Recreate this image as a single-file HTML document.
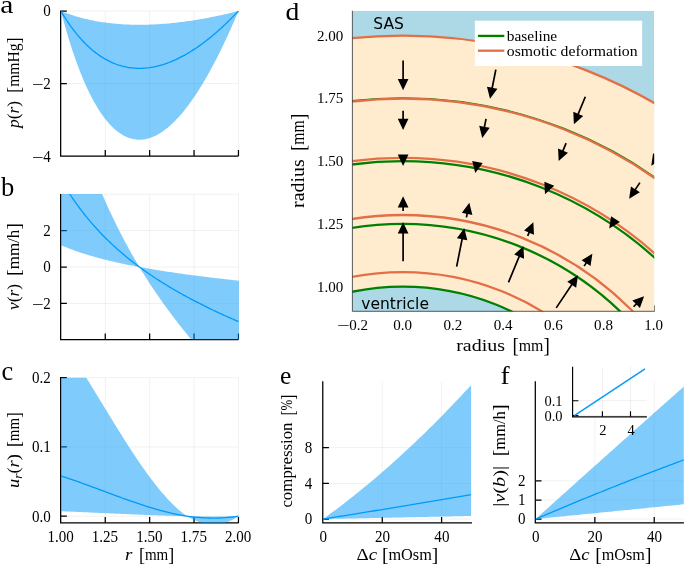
<!DOCTYPE html>
<html lang="en">
<head>
<meta charset="utf-8">
<title>Figure</title>
<style>
html,body{margin:0;padding:0;background:#fff;}
svg{display:block;}
</style>
</head>
<body>
<svg width="685" height="566" viewBox="0 0 685 566" font-family='"Liberation Serif", "DejaVu Serif", serif' fill="#000">
<rect width="685" height="566" fill="#fff"/>
<clipPath id="cp1"><rect x="60.85" y="11" width="178.1" height="145.1"/></clipPath>
<path d="M60.85 11V156.1M105.25 11V156.1M149.65 11V156.1M194.05 11V156.1M238.45 11V156.1M60.85 11H238.45M60.85 83.55H238.45M60.85 156.1H238.45" stroke="#000" stroke-opacity="0.1" stroke-width="0.6" fill="none"/>
<path d="M60.65 10.38V156.1H238.45" stroke="#000" stroke-width="1.25" fill="none" stroke-linejoin="miter"/>
<path d="M105.25 156.1v-6M149.65 156.1v-6M194.05 156.1v-6M238.45 156.1v-6M60.85 11h6M60.85 83.55h6" stroke="#000" stroke-width="1.25" fill="none"/>
<path d="M60.85 11 L62.33 11.6 L63.81 12.17 L65.29 12.74 L66.77 13.28 L68.25 13.81 L69.73 14.32 L71.21 14.82 L72.69 15.3 L74.17 15.77 L75.65 16.22 L77.13 16.66 L78.61 17.08 L80.09 17.49 L81.57 17.89 L83.05 18.27 L84.53 18.64 L86.01 19 L87.49 19.35 L88.97 19.68 L90.45 20 L91.93 20.3 L93.41 20.6 L94.89 20.88 L96.37 21.16 L97.85 21.42 L99.33 21.67 L100.81 21.91 L102.29 22.14 L103.77 22.35 L105.25 22.56 L106.73 22.76 L108.21 22.95 L109.69 23.12 L111.17 23.29 L112.65 23.45 L114.13 23.6 L115.61 23.74 L117.09 23.87 L118.57 23.99 L120.05 24.1 L121.53 24.2 L123.01 24.3 L124.49 24.38 L125.97 24.46 L127.45 24.53 L128.93 24.59 L130.41 24.64 L131.89 24.68 L133.37 24.72 L134.85 24.74 L136.33 24.76 L137.81 24.78 L139.29 24.78 L140.77 24.78 L142.25 24.77 L143.73 24.75 L145.21 24.72 L146.69 24.69 L148.17 24.65 L149.65 24.6 L151.13 24.55 L152.61 24.49 L154.09 24.42 L155.57 24.35 L157.05 24.27 L158.53 24.18 L160.01 24.08 L161.49 23.98 L162.97 23.87 L164.45 23.76 L165.93 23.64 L167.41 23.51 L168.89 23.38 L170.37 23.24 L171.85 23.1 L173.33 22.95 L174.81 22.79 L176.29 22.63 L177.77 22.46 L179.25 22.29 L180.73 22.11 L182.21 21.92 L183.69 21.73 L185.17 21.53 L186.65 21.33 L188.13 21.12 L189.61 20.91 L191.09 20.69 L192.57 20.46 L194.05 20.23 L195.53 20 L197.01 19.75 L198.49 19.51 L199.97 19.26 L201.45 19 L202.93 18.74 L204.41 18.47 L205.89 18.2 L207.37 17.92 L208.85 17.64 L210.33 17.35 L211.81 17.06 L213.29 16.77 L214.77 16.46 L216.25 16.16 L217.73 15.85 L219.21 15.53 L220.69 15.21 L222.17 14.88 L223.65 14.55 L225.13 14.22 L226.61 13.88 L228.09 13.54 L229.57 13.19 L231.05 12.83 L232.53 12.48 L234.01 12.11 L235.49 11.75 L236.97 11.38 L238.95 11 L238.95 11 L236.97 14.51 L235.49 17.98 L234.01 21.4 L232.53 24.79 L231.05 28.13 L229.57 31.43 L228.09 34.68 L226.61 37.9 L225.13 41.07 L223.65 44.2 L222.17 47.28 L220.69 50.32 L219.21 53.32 L217.73 56.27 L216.25 59.17 L214.77 62.04 L213.29 64.85 L211.81 67.62 L210.33 70.35 L208.85 73.03 L207.37 75.66 L205.89 78.25 L204.41 80.79 L202.93 83.28 L201.45 85.72 L199.97 88.12 L198.49 90.47 L197.01 92.77 L195.53 95.01 L194.05 97.21 L192.57 99.36 L191.09 101.46 L189.61 103.51 L188.13 105.51 L186.65 107.46 L185.17 109.35 L183.69 111.2 L182.21 112.99 L180.73 114.72 L179.25 116.41 L177.77 118.04 L176.29 119.61 L174.81 121.13 L173.33 122.6 L171.85 124 L170.37 125.36 L168.89 126.65 L167.41 127.89 L165.93 129.07 L164.45 130.19 L162.97 131.25 L161.49 132.25 L160.01 133.2 L158.53 134.08 L157.05 134.9 L155.57 135.66 L154.09 136.35 L152.61 136.98 L151.13 137.55 L149.65 138.05 L148.17 138.49 L146.69 138.86 L145.21 139.17 L143.73 139.4 L142.25 139.57 L140.77 139.67 L139.29 139.7 L137.81 139.66 L136.33 139.55 L134.85 139.37 L133.37 139.11 L131.89 138.78 L130.41 138.37 L128.93 137.89 L127.45 137.33 L125.97 136.69 L124.49 135.98 L123.01 135.18 L121.53 134.31 L120.05 133.35 L118.57 132.31 L117.09 131.18 L115.61 129.97 L114.13 128.67 L112.65 127.29 L111.17 125.81 L109.69 124.25 L108.21 122.59 L106.73 120.84 L105.25 119 L103.77 117.06 L102.29 115.02 L100.81 112.88 L99.33 110.65 L97.85 108.31 L96.37 105.87 L94.89 103.32 L93.41 100.67 L91.93 97.9 L90.45 95.03 L88.97 92.04 L87.49 88.94 L86.01 85.73 L84.53 82.39 L83.05 78.94 L81.57 75.36 L80.09 71.66 L78.61 67.83 L77.13 63.87 L75.65 59.78 L74.17 55.55 L72.69 51.19 L71.21 46.68 L69.73 42.04 L68.25 37.25 L66.77 32.31 L65.29 27.21 L63.81 21.97 L62.33 16.57 L60.85 11Z" fill="#009AFA" fill-opacity="0.5" clip-path="url(#cp1)"/>
<path d="M60.85 11 L62.33 13.48 L63.81 15.89 L65.29 18.22 L66.77 20.49 L68.25 22.69 L69.73 24.82 L71.21 26.89 L72.69 28.9 L74.17 30.84 L75.65 32.72 L77.13 34.55 L78.61 36.31 L80.09 38.02 L81.57 39.67 L83.05 41.26 L84.53 42.8 L86.01 44.28 L87.49 45.72 L88.97 47.1 L90.45 48.43 L91.93 49.71 L93.41 50.94 L94.89 52.12 L96.37 53.25 L97.85 54.34 L99.33 55.38 L100.81 56.38 L102.29 57.33 L103.77 58.24 L105.25 59.1 L106.73 59.92 L108.21 60.7 L109.69 61.44 L111.17 62.14 L112.65 62.79 L114.13 63.41 L115.61 63.99 L117.09 64.53 L118.57 65.03 L120.05 65.49 L121.53 65.92 L123.01 66.31 L124.49 66.66 L125.97 66.98 L127.45 67.27 L128.93 67.52 L130.41 67.73 L131.89 67.91 L133.37 68.06 L134.85 68.17 L136.33 68.26 L137.81 68.31 L139.29 68.32 L140.77 68.31 L142.25 68.27 L143.73 68.19 L145.21 68.09 L146.69 67.95 L148.17 67.78 L149.65 67.59 L151.13 67.36 L152.61 67.11 L154.09 66.83 L155.57 66.52 L157.05 66.18 L158.53 65.82 L160.01 65.43 L161.49 65.01 L162.97 64.56 L164.45 64.09 L165.93 63.59 L167.41 63.06 L168.89 62.51 L170.37 61.93 L171.85 61.33 L173.33 60.7 L174.81 60.05 L176.29 59.38 L177.77 58.67 L179.25 57.95 L180.73 57.2 L182.21 56.42 L183.69 55.63 L185.17 54.81 L186.65 53.96 L188.13 53.1 L189.61 52.21 L191.09 51.29 L192.57 50.36 L194.05 49.4 L195.53 48.42 L197.01 47.42 L198.49 46.39 L199.97 45.35 L201.45 44.28 L202.93 43.19 L204.41 42.08 L205.89 40.95 L207.37 39.8 L208.85 38.63 L210.33 37.43 L211.81 36.22 L213.29 34.99 L214.77 33.73 L216.25 32.46 L217.73 31.16 L219.21 29.85 L220.69 28.51 L222.17 27.16 L223.65 25.79 L225.13 24.39 L226.61 22.98 L228.09 21.55 L229.57 20.1 L231.05 18.63 L232.53 17.14 L234.01 15.63 L235.49 14.11 L236.97 12.56 L238.45 11" fill="none" stroke="#009AFA" stroke-width="1.3" stroke-linejoin="round" clip-path="url(#cp1)"/>
<text x="43.18" y="16" font-size="16.0" textLength="7.52" lengthAdjust="spacingAndGlyphs">0</text>
<text x="43.18" y="89" font-size="16.0" textLength="7.52" lengthAdjust="spacingAndGlyphs">2</text>
<text x="31.98" y="90.3" font-size="16.0" textLength="11.6" lengthAdjust="spacingAndGlyphs">−</text>
<text x="43.18" y="162" font-size="16.0" textLength="7.52" lengthAdjust="spacingAndGlyphs">4</text>
<text x="31.98" y="163.3" font-size="16.0" textLength="11.6" lengthAdjust="spacingAndGlyphs">−</text>
<clipPath id="cp2"><rect x="60.85" y="194" width="178.1" height="145.5"/></clipPath>
<path d="M60.85 194V339.5M105.25 194V339.5M149.65 194V339.5M194.05 194V339.5M238.45 194V339.5M60.85 230.6H238.45M60.85 267H238.45M60.85 303.4H238.45M60.85 194.2H238.45" stroke="#000" stroke-opacity="0.1" stroke-width="0.6" fill="none"/>
<path d="M60.65 194V339.5H238.45" stroke="#000" stroke-width="1.25" fill="none" stroke-linejoin="miter"/>
<path d="M105.25 339.5v-6M149.65 339.5v-6M194.05 339.5v-6M238.45 339.5v-6M60.85 230.6h6M60.85 267h6M60.85 303.4h6" stroke="#000" stroke-width="1.25" fill="none"/>
<path d="M60.85 245.16 L62.33 245.79 L63.81 246.41 L65.29 247.01 L66.77 247.6 L68.25 248.18 L69.73 248.75 L71.21 249.31 L72.69 249.86 L74.17 250.39 L75.65 250.92 L77.13 251.43 L78.61 251.94 L80.09 252.43 L81.57 252.92 L83.05 253.4 L84.53 253.87 L86.01 254.33 L87.49 254.79 L88.97 255.23 L90.45 255.67 L91.93 256.1 L93.41 256.53 L94.89 256.94 L96.37 257.35 L97.85 257.76 L99.33 258.16 L100.81 258.55 L102.29 258.93 L103.77 259.31 L105.25 259.68 L106.73 260.05 L108.21 260.41 L109.69 260.77 L111.17 261.12 L112.65 261.47 L114.13 261.81 L115.61 262.15 L117.09 262.48 L118.57 262.81 L120.05 263.13 L121.53 263.45 L123.01 263.77 L124.49 264.08 L125.97 264.38 L127.45 264.69 L128.93 264.99 L130.41 265.28 L131.89 265.57 L133.37 265.86 L134.85 266.15 L136.33 266.43 L137.81 266.71 L139.29 266.98 L140.77 267.25 L142.25 267.52 L143.73 267.79 L145.21 268.05 L146.69 268.31 L148.17 268.57 L149.65 268.82 L151.13 269.07 L152.61 269.32 L154.09 269.57 L155.57 269.81 L157.05 270.05 L158.53 270.29 L160.01 270.53 L161.49 270.76 L162.97 270.99 L164.45 271.22 L165.93 271.45 L167.41 271.68 L168.89 271.9 L170.37 272.12 L171.85 272.34 L173.33 272.56 L174.81 272.77 L176.29 272.98 L177.77 273.2 L179.25 273.41 L180.73 273.61 L182.21 273.82 L183.69 274.03 L185.17 274.23 L186.65 274.43 L188.13 274.63 L189.61 274.83 L191.09 275.02 L192.57 275.22 L194.05 275.41 L195.53 275.61 L197.01 275.8 L198.49 275.99 L199.97 276.17 L201.45 276.36 L202.93 276.54 L204.41 276.73 L205.89 276.91 L207.37 277.09 L208.85 277.27 L210.33 277.45 L211.81 277.63 L213.29 277.81 L214.77 277.98 L216.25 278.16 L217.73 278.33 L219.21 278.5 L220.69 278.67 L222.17 278.84 L223.65 279.01 L225.13 279.18 L226.61 279.35 L228.09 279.51 L229.57 279.68 L231.05 279.84 L232.53 280.01 L234.01 280.17 L235.49 280.33 L236.97 280.49 L238.95 280.65 L238.95 389.85 L236.97 388.41 L235.49 386.97 L234.01 385.52 L232.53 384.05 L231.05 382.59 L229.57 381.11 L228.09 379.62 L226.61 378.13 L225.13 376.62 L223.65 375.11 L222.17 373.59 L220.69 372.06 L219.21 370.52 L217.73 368.97 L216.25 367.41 L214.77 365.84 L213.29 364.26 L211.81 362.67 L210.33 361.07 L208.85 359.46 L207.37 357.84 L205.89 356.2 L204.41 354.56 L202.93 352.9 L201.45 351.24 L199.97 349.56 L198.49 347.87 L197.01 346.16 L195.53 344.45 L194.05 342.72 L192.57 340.97 L191.09 339.22 L189.61 337.45 L188.13 335.66 L186.65 333.87 L185.17 332.06 L183.69 330.23 L182.21 328.39 L180.73 326.53 L179.25 324.66 L177.77 322.77 L176.29 320.86 L174.81 318.94 L173.33 317.01 L171.85 315.05 L170.37 313.08 L168.89 311.09 L167.41 309.08 L165.93 307.05 L164.45 305 L162.97 302.93 L161.49 300.85 L160.01 298.74 L158.53 296.61 L157.05 294.46 L155.57 292.29 L154.09 290.1 L152.61 287.88 L151.13 285.64 L149.65 283.38 L148.17 281.09 L146.69 278.78 L145.21 276.44 L143.73 274.08 L142.25 271.69 L140.77 269.27 L139.29 266.83 L137.81 264.35 L136.33 261.85 L134.85 259.32 L133.37 256.76 L131.89 254.16 L130.41 251.54 L128.93 248.88 L127.45 246.19 L125.97 243.46 L124.49 240.7 L123.01 237.9 L121.53 235.07 L120.05 232.19 L118.57 229.28 L117.09 226.33 L115.61 223.34 L114.13 220.3 L112.65 217.23 L111.17 214.1 L109.69 210.94 L108.21 207.72 L106.73 204.46 L105.25 201.15 L103.77 197.79 L102.29 194.38 L100.81 190.91 L99.33 187.4 L97.85 183.82 L96.37 180.19 L94.89 176.49 L93.41 172.74 L91.93 168.92 L90.45 165.04 L88.97 161.1 L87.49 157.08 L86.01 153 L84.53 148.84 L83.05 144.61 L81.57 140.3 L80.09 135.91 L78.61 131.44 L77.13 126.89 L75.65 122.25 L74.17 117.52 L72.69 112.7 L71.21 107.78 L69.73 102.77 L68.25 97.65 L66.77 92.43 L65.29 87.1 L63.81 81.67 L62.33 76.11 L60.85 70.44Z" fill="#009AFA" fill-opacity="0.5" clip-path="url(#cp2)"/>
<path d="M60.85 179.64 L62.33 182.16 L63.81 184.63 L65.29 187.05 L66.77 189.41 L68.25 191.73 L69.73 194.01 L71.21 196.24 L72.69 198.42 L74.17 200.56 L75.65 202.66 L77.13 204.73 L78.61 206.75 L80.09 208.74 L81.57 210.69 L83.05 212.6 L84.53 214.48 L86.01 216.33 L87.49 218.15 L88.97 219.93 L90.45 221.69 L91.93 223.41 L93.41 225.11 L94.89 226.77 L96.37 228.42 L97.85 230.03 L99.33 231.62 L100.81 233.18 L102.29 234.72 L103.77 236.24 L105.25 237.73 L106.73 239.21 L108.21 240.65 L109.69 242.08 L111.17 243.49 L112.65 244.88 L114.13 246.25 L115.61 247.59 L117.09 248.92 L118.57 250.24 L120.05 251.53 L121.53 252.81 L123.01 254.07 L124.49 255.31 L125.97 256.54 L127.45 257.75 L128.93 258.95 L130.41 260.13 L131.89 261.29 L133.37 262.45 L134.85 263.59 L136.33 264.71 L137.81 265.82 L139.29 266.92 L140.77 268.01 L142.25 269.08 L143.73 270.15 L145.21 271.2 L146.69 272.24 L148.17 273.26 L149.65 274.28 L151.13 275.29 L152.61 276.28 L154.09 277.27 L155.57 278.24 L157.05 279.21 L158.53 280.16 L160.01 281.11 L161.49 282.04 L162.97 282.97 L164.45 283.89 L165.93 284.8 L167.41 285.7 L168.89 286.59 L170.37 287.48 L171.85 288.36 L173.33 289.22 L174.81 290.09 L176.29 290.94 L177.77 291.79 L179.25 292.63 L180.73 293.46 L182.21 294.28 L183.69 295.1 L185.17 295.91 L186.65 296.72 L188.13 297.52 L189.61 298.31 L191.09 299.1 L192.57 299.88 L194.05 300.65 L195.53 301.42 L197.01 302.18 L198.49 302.94 L199.97 303.69 L201.45 304.44 L202.93 305.18 L204.41 305.92 L205.89 306.65 L207.37 307.37 L208.85 308.09 L210.33 308.81 L211.81 309.52 L213.29 310.23 L214.77 310.93 L216.25 311.63 L217.73 312.32 L219.21 313.01 L220.69 313.69 L222.17 314.37 L223.65 315.05 L225.13 315.72 L226.61 316.39 L228.09 317.05 L229.57 317.71 L231.05 318.37 L232.53 319.02 L234.01 319.67 L235.49 320.32 L236.97 320.96 L238.45 321.6" fill="none" stroke="#009AFA" stroke-width="1.3" stroke-linejoin="round" clip-path="url(#cp2)"/>
<text x="43.18" y="236" font-size="16.0" textLength="7.52" lengthAdjust="spacingAndGlyphs">2</text>
<text x="43.18" y="272" font-size="16.0" textLength="7.52" lengthAdjust="spacingAndGlyphs">0</text>
<text x="43.18" y="309" font-size="16.0" textLength="7.52" lengthAdjust="spacingAndGlyphs">2</text>
<text x="31.98" y="310.3" font-size="16.0" textLength="11.6" lengthAdjust="spacingAndGlyphs">−</text>
<clipPath id="cp3"><rect x="60.85" y="377.7" width="178.1" height="145.2"/></clipPath>
<path d="M60.85 377.7V522.9M105.25 377.7V522.9M149.65 377.7V522.9M194.05 377.7V522.9M238.45 377.7V522.9M60.85 377.7H238.45M60.85 446.95H238.45M60.85 516.2H238.45" stroke="#000" stroke-opacity="0.1" stroke-width="0.6" fill="none"/>
<path d="M60.65 377.07V522.9H238.45" stroke="#000" stroke-width="1.25" fill="none" stroke-linejoin="miter"/>
<path d="M105.25 522.9v-6M149.65 522.9v-6M194.05 522.9v-6M238.45 522.9v-6M60.85 377.7h6M60.85 446.95h6M60.85 516.2h6" stroke="#000" stroke-width="1.25" fill="none"/>
<path d="M60.85 511.22 L62.33 511.27 L63.81 511.33 L65.29 511.39 L66.77 511.45 L68.25 511.52 L69.73 511.58 L71.21 511.64 L72.69 511.7 L74.17 511.77 L75.65 511.83 L77.13 511.9 L78.61 511.96 L80.09 512.03 L81.57 512.09 L83.05 512.16 L84.53 512.22 L86.01 512.29 L87.49 512.36 L88.97 512.42 L90.45 512.49 L91.93 512.56 L93.41 512.63 L94.89 512.69 L96.37 512.76 L97.85 512.83 L99.33 512.9 L100.81 512.97 L102.29 513.04 L103.77 513.1 L105.25 513.17 L106.73 513.24 L108.21 513.31 L109.69 513.38 L111.17 513.45 L112.65 513.51 L114.13 513.58 L115.61 513.65 L117.09 513.72 L118.57 513.78 L120.05 513.85 L121.53 513.92 L123.01 513.98 L124.49 514.05 L125.97 514.11 L127.45 514.18 L128.93 514.24 L130.41 514.31 L131.89 514.37 L133.37 514.44 L134.85 514.5 L136.33 514.56 L137.81 514.62 L139.29 514.68 L140.77 514.74 L142.25 514.8 L143.73 514.86 L145.21 514.92 L146.69 514.98 L148.17 515.04 L149.65 515.09 L151.13 515.15 L152.61 515.21 L154.09 515.26 L155.57 515.31 L157.05 515.36 L158.53 515.42 L160.01 515.47 L161.49 515.52 L162.97 515.57 L164.45 515.61 L165.93 515.66 L167.41 515.71 L168.89 515.75 L170.37 515.79 L171.85 515.84 L173.33 515.88 L174.81 515.92 L176.29 515.96 L177.77 515.99 L179.25 516.03 L180.73 516.07 L182.21 516.1 L183.69 516.13 L185.17 516.16 L186.65 516.19 L188.13 516.22 L189.61 516.24 L191.09 516.26 L192.57 516.29 L194.05 516.3 L195.53 516.32 L197.01 516.34 L198.49 516.35 L199.97 516.37 L201.45 516.38 L202.93 516.39 L204.41 516.4 L205.89 516.41 L207.37 516.42 L208.85 516.42 L210.33 516.43 L211.81 516.43 L213.29 516.43 L214.77 516.43 L216.25 516.43 L217.73 516.43 L219.21 516.42 L220.69 516.42 L222.17 516.41 L223.65 516.4 L225.13 516.39 L226.61 516.37 L228.09 516.36 L229.57 516.34 L231.05 516.32 L232.53 516.3 L234.01 516.28 L235.49 516.25 L236.97 516.23 L238.95 516.2 L238.95 516.2 L236.97 517.19 L235.49 518.11 L234.01 518.97 L232.53 519.77 L231.05 520.49 L229.57 521.16 L228.09 521.76 L226.61 522.3 L225.13 522.78 L223.65 523.2 L222.17 523.55 L220.69 523.85 L219.21 524.09 L217.73 524.27 L216.25 524.4 L214.77 524.46 L213.29 524.48 L211.81 524.43 L210.33 524.34 L208.85 524.19 L207.37 523.98 L205.89 523.73 L204.41 523.42 L202.93 523.07 L201.45 522.66 L199.97 522.2 L198.49 521.7 L197.01 521.15 L195.53 520.55 L194.05 519.91 L192.57 519.22 L191.09 518.49 L189.61 517.71 L188.13 516.89 L186.65 515.99 L185.17 514.93 L183.69 513.82 L182.21 512.66 L180.73 511.45 L179.25 510.2 L177.77 508.9 L176.29 507.56 L174.81 506.18 L173.33 504.75 L171.85 503.29 L170.37 501.78 L168.89 500.23 L167.41 498.65 L165.93 497.03 L164.45 495.37 L162.97 493.67 L161.49 491.94 L160.01 490.17 L158.53 488.38 L157.05 486.55 L155.57 484.68 L154.09 482.79 L152.61 480.87 L151.13 478.91 L149.65 476.93 L148.17 474.92 L146.69 472.89 L145.21 470.83 L143.73 468.74 L142.25 466.64 L140.77 464.5 L139.29 462.35 L137.81 460.17 L136.33 457.98 L134.85 455.76 L133.37 453.53 L131.89 451.28 L130.41 449.01 L128.93 446.72 L127.45 444.42 L125.97 442.11 L124.49 439.78 L123.01 437.44 L121.53 435.09 L120.05 432.72 L118.57 430.35 L117.09 427.97 L115.61 425.58 L114.13 423.18 L112.65 420.77 L111.17 418.36 L109.69 415.95 L108.21 413.53 L106.73 411.11 L105.25 408.68 L103.77 406.26 L102.29 403.83 L100.81 401.4 L99.33 398.98 L97.85 396.55 L96.37 394.13 L94.89 391.72 L93.41 389.31 L91.93 386.9 L90.45 384.5 L88.97 382.11 L87.49 379.72 L86.01 377.35 L84.53 374.98 L83.05 372.63 L81.57 370.28 L80.09 367.95 L78.61 365.64 L77.13 363.33 L75.65 361.05 L74.17 358.77 L72.69 356.52 L71.21 354.28 L69.73 352.06 L68.25 349.86 L66.77 347.68 L65.29 345.52 L63.81 343.39 L62.33 341.27 L60.85 339.18Z" fill="#009AFA" fill-opacity="0.5" clip-path="url(#cp3)"/>
<path d="M60.85 475.91 L62.33 476.39 L63.81 476.87 L65.29 477.35 L66.77 477.84 L68.25 478.34 L69.73 478.84 L71.21 479.35 L72.69 479.85 L74.17 480.37 L75.65 480.89 L77.13 481.41 L78.61 481.93 L80.09 482.46 L81.57 482.99 L83.05 483.52 L84.53 484.06 L86.01 484.6 L87.49 485.14 L88.97 485.68 L90.45 486.22 L91.93 486.77 L93.41 487.32 L94.89 487.87 L96.37 488.42 L97.85 488.97 L99.33 489.52 L100.81 490.07 L102.29 490.62 L103.77 491.18 L105.25 491.73 L106.73 492.28 L108.21 492.83 L109.69 493.38 L111.17 493.93 L112.65 494.48 L114.13 495.03 L115.61 495.57 L117.09 496.12 L118.57 496.66 L120.05 497.2 L121.53 497.74 L123.01 498.27 L124.49 498.81 L125.97 499.34 L127.45 499.86 L128.93 500.39 L130.41 500.91 L131.89 501.42 L133.37 501.94 L134.85 502.44 L136.33 502.95 L137.81 503.45 L139.29 503.94 L140.77 504.43 L142.25 504.92 L143.73 505.4 L145.21 505.87 L146.69 506.34 L148.17 506.81 L149.65 507.26 L151.13 507.71 L152.61 508.16 L154.09 508.6 L155.57 509.03 L157.05 509.45 L158.53 509.87 L160.01 510.28 L161.49 510.68 L162.97 511.07 L164.45 511.46 L165.93 511.84 L167.41 512.2 L168.89 512.57 L170.37 512.92 L171.85 513.26 L173.33 513.59 L174.81 513.92 L176.29 514.23 L177.77 514.54 L179.25 514.83 L180.73 515.12 L182.21 515.39 L183.69 515.66 L185.17 515.91 L186.65 516.15 L188.13 516.36 L189.61 516.54 L191.09 516.72 L192.57 516.89 L194.05 517.04 L195.53 517.19 L197.01 517.33 L198.49 517.45 L199.97 517.57 L201.45 517.67 L202.93 517.76 L204.41 517.84 L205.89 517.91 L207.37 517.97 L208.85 518.02 L210.33 518.05 L211.81 518.07 L213.29 518.08 L214.77 518.08 L216.25 518.07 L217.73 518.04 L219.21 518 L220.69 517.94 L222.17 517.87 L223.65 517.79 L225.13 517.7 L226.61 517.59 L228.09 517.47 L229.57 517.33 L231.05 517.18 L232.53 517.01 L234.01 516.83 L235.49 516.64 L236.97 516.43 L238.45 516.2" fill="none" stroke="#009AFA" stroke-width="1.3" stroke-linejoin="round" clip-path="url(#cp3)"/>
<text x="47.39" y="542" font-size="16.0" textLength="26.32" lengthAdjust="spacingAndGlyphs">1.00</text>
<text x="91.79" y="542" font-size="16.0" textLength="26.32" lengthAdjust="spacingAndGlyphs">1.25</text>
<text x="136.19" y="542" font-size="16.0" textLength="26.32" lengthAdjust="spacingAndGlyphs">1.50</text>
<text x="180.59" y="542" font-size="16.0" textLength="26.32" lengthAdjust="spacingAndGlyphs">1.75</text>
<text x="224.99" y="542" font-size="16.0" textLength="26.32" lengthAdjust="spacingAndGlyphs">2.00</text>
<text x="31.9" y="383" font-size="16.0" textLength="18.8" lengthAdjust="spacingAndGlyphs">0.2</text>
<text x="31.9" y="452" font-size="16.0" textLength="18.8" lengthAdjust="spacingAndGlyphs">0.1</text>
<text x="31.9" y="522" font-size="16.0" textLength="18.8" lengthAdjust="spacingAndGlyphs">0.0</text>
<clipPath id="cp4"><rect x="322.95" y="381.3" width="148.3" height="141.6"/></clipPath>
<path d="M322.95 381.3V522.9M382.27 381.3V522.9M441.59 381.3V522.9M322.95 519.1H471.25M322.95 483.38H471.25M322.95 447.66H471.25" stroke="#000" stroke-opacity="0.1" stroke-width="0.6" fill="none"/>
<path d="M322.75 381.3V522.9H471.95" stroke="#000" stroke-width="1.25" fill="none" stroke-linejoin="miter"/>
<path d="M382.27 522.9v-6M441.59 522.9v-6M322.95 519.1h6M322.95 483.38h6M322.95 447.66h6" stroke="#000" stroke-width="1.25" fill="none"/>
<path d="M322.95 519.1 L325.92 519.04 L328.88 518.97 L331.85 518.91 L334.81 518.85 L337.78 518.79 L340.75 518.72 L343.71 518.66 L346.68 518.6 L349.64 518.54 L352.61 518.47 L355.58 518.41 L358.54 518.35 L361.51 518.29 L364.47 518.22 L367.44 518.16 L370.41 518.1 L373.37 518.04 L376.34 517.97 L379.3 517.91 L382.27 517.85 L385.24 517.79 L388.2 517.72 L391.17 517.66 L394.13 517.6 L397.1 517.54 L400.07 517.47 L403.03 517.41 L406 517.35 L408.96 517.29 L411.93 517.22 L414.9 517.16 L417.86 517.1 L420.83 517.04 L423.79 516.97 L426.76 516.91 L429.73 516.85 L432.69 516.79 L435.66 516.72 L438.62 516.66 L441.59 516.6 L444.56 516.54 L447.52 516.47 L450.49 516.41 L453.45 516.35 L456.42 516.29 L459.39 516.22 L462.35 516.16 L465.32 516.1 L468.28 516.04 L471.25 515.97 L471.25 384.93 L468.28 388.15 L465.32 391.36 L462.35 394.54 L459.39 397.7 L456.42 400.84 L453.45 403.95 L450.49 407.04 L447.52 410.12 L444.56 413.16 L441.59 416.19 L438.62 419.2 L435.66 422.18 L432.69 425.14 L429.73 428.08 L426.76 430.99 L423.79 433.89 L420.83 436.76 L417.86 439.61 L414.9 442.43 L411.93 445.24 L408.96 448.02 L406 450.78 L403.03 453.52 L400.07 456.24 L397.1 458.93 L394.13 461.61 L391.17 464.26 L388.2 466.88 L385.24 469.49 L382.27 472.07 L379.3 474.64 L376.34 477.18 L373.37 479.69 L370.41 482.19 L367.44 484.66 L364.47 487.11 L361.51 489.54 L358.54 491.95 L355.58 494.33 L352.61 496.69 L349.64 499.03 L346.68 501.35 L343.71 503.65 L340.75 505.92 L337.78 508.17 L334.81 510.4 L331.85 512.61 L328.88 514.8 L325.92 516.96 L322.95 519.1Z" fill="#009AFA" fill-opacity="0.5" clip-path="url(#cp4)"/>
<path d="M322.95 519.1 L325.92 518.63 L328.88 518.16 L331.85 517.68 L334.81 517.21 L337.78 516.73 L340.75 516.26 L343.71 515.78 L346.68 515.31 L349.64 514.83 L352.61 514.35 L355.58 513.87 L358.54 513.39 L361.51 512.92 L364.47 512.43 L367.44 511.95 L370.41 511.47 L373.37 510.99 L376.34 510.51 L379.3 510.02 L382.27 509.54 L385.24 509.05 L388.2 508.57 L391.17 508.08 L394.13 507.6 L397.1 507.11 L400.07 506.62 L403.03 506.13 L406 505.64 L408.96 505.15 L411.93 504.66 L414.9 504.17 L417.86 503.68 L420.83 503.18 L423.79 502.69 L426.76 502.2 L429.73 501.7 L432.69 501.21 L435.66 500.71 L438.62 500.21 L441.59 499.72 L444.56 499.22 L447.52 498.72 L450.49 498.22 L453.45 497.72 L456.42 497.22 L459.39 496.72 L462.35 496.22 L465.32 495.71 L468.28 495.21 L471.25 494.71" fill="none" stroke="#009AFA" stroke-width="1.3" stroke-linejoin="round" clip-path="url(#cp4)"/>
<text x="319.49" y="542" font-size="16.0" textLength="7.52" lengthAdjust="spacingAndGlyphs">0</text>
<text x="375.05" y="542" font-size="16.0" textLength="15.04" lengthAdjust="spacingAndGlyphs">20</text>
<text x="434.37" y="542" font-size="16.0" textLength="15.04" lengthAdjust="spacingAndGlyphs">40</text>
<text x="304.78" y="524" font-size="16.0" textLength="7.52" lengthAdjust="spacingAndGlyphs">0</text>
<text x="304.78" y="489" font-size="16.0" textLength="7.52" lengthAdjust="spacingAndGlyphs">4</text>
<text x="304.78" y="453" font-size="16.0" textLength="7.52" lengthAdjust="spacingAndGlyphs">8</text>
<clipPath id="cp5"><rect x="535.5" y="381.3" width="148.4" height="141.6"/></clipPath>
<path d="M535.5 381.3V522.9M594.86 381.3V522.9M654.22 381.3V522.9M535.5 519.1H683.9M535.5 500H683.9M535.5 480.9H683.9" stroke="#000" stroke-opacity="0.1" stroke-width="0.6" fill="none"/>
<path d="M535.3 381.3V522.9H683.9" stroke="#000" stroke-width="1.25" fill="none" stroke-linejoin="miter"/>
<path d="M594.86 522.9v-6M654.22 522.9v-6M535.5 519.1h6M535.5 500h6M535.5 480.9h6" stroke="#000" stroke-width="1.25" fill="none"/>
<path d="M535.5 519.1 L538.47 518.8 L541.44 518.51 L544.4 518.21 L547.37 517.92 L550.34 517.62 L553.31 517.32 L556.28 517.03 L559.24 516.73 L562.21 516.44 L565.18 516.14 L568.15 515.84 L571.12 515.55 L574.08 515.25 L577.05 514.96 L580.02 514.66 L582.99 514.36 L585.96 514.07 L588.92 513.77 L591.89 513.48 L594.86 513.18 L597.83 512.88 L600.8 512.59 L603.76 512.29 L606.73 511.99 L609.7 511.7 L612.67 511.4 L615.64 511.11 L618.6 510.81 L621.57 510.51 L624.54 510.22 L627.51 509.92 L630.48 509.63 L633.44 509.33 L636.41 509.03 L639.38 508.74 L642.35 508.44 L645.32 508.15 L648.28 507.85 L651.25 507.55 L654.22 507.26 L657.19 506.96 L660.16 506.67 L663.12 506.37 L666.09 506.07 L669.06 505.78 L672.03 505.48 L675 505.19 L677.96 504.89 L680.93 504.59 L683.9 504.3 L683.9 386.55 L680.93 389.17 L677.96 391.8 L675 394.43 L672.03 397.07 L669.06 399.7 L666.09 402.33 L663.12 404.97 L660.16 407.6 L657.19 410.24 L654.22 412.87 L651.25 415.51 L648.28 418.15 L645.32 420.79 L642.35 423.43 L639.38 426.07 L636.41 428.71 L633.44 431.36 L630.48 434 L627.51 436.65 L624.54 439.29 L621.57 441.94 L618.6 444.59 L615.64 447.24 L612.67 449.89 L609.7 452.54 L606.73 455.19 L603.76 457.84 L600.8 460.49 L597.83 463.15 L594.86 465.8 L591.89 468.46 L588.92 471.12 L585.96 473.77 L582.99 476.43 L580.02 479.09 L577.05 481.75 L574.08 484.42 L571.12 487.08 L568.15 489.74 L565.18 492.41 L562.21 495.07 L559.24 497.74 L556.28 500.4 L553.31 503.07 L550.34 505.74 L547.37 508.41 L544.4 511.08 L541.44 513.75 L538.47 516.43 L535.5 519.1Z" fill="#009AFA" fill-opacity="0.5" clip-path="url(#cp5)"/>
<path d="M535.5 519.1 L538.47 517.83 L541.44 516.57 L544.4 515.31 L547.37 514.05 L550.34 512.79 L553.31 511.54 L556.28 510.29 L559.24 509.05 L562.21 507.81 L565.18 506.57 L568.15 505.34 L571.12 504.11 L574.08 502.88 L577.05 501.65 L580.02 500.43 L582.99 499.22 L585.96 498 L588.92 496.79 L591.89 495.59 L594.86 494.38 L597.83 493.18 L600.8 491.99 L603.76 490.8 L606.73 489.61 L609.7 488.42 L612.67 487.24 L615.64 486.06 L618.6 484.88 L621.57 483.71 L624.54 482.54 L627.51 481.38 L630.48 480.22 L633.44 479.06 L636.41 477.9 L639.38 476.75 L642.35 475.6 L645.32 474.46 L648.28 473.32 L651.25 472.18 L654.22 471.04 L657.19 469.91 L660.16 468.79 L663.12 467.66 L666.09 466.54 L669.06 465.42 L672.03 464.31 L675 463.2 L677.96 462.09 L680.93 460.99 L683.9 459.89" fill="none" stroke="#009AFA" stroke-width="1.3" stroke-linejoin="round" clip-path="url(#cp5)"/>
<text x="531.94" y="542" font-size="16.0" textLength="7.52" lengthAdjust="spacingAndGlyphs">0</text>
<text x="587.54" y="542" font-size="16.0" textLength="15.04" lengthAdjust="spacingAndGlyphs">20</text>
<text x="646.9" y="542" font-size="16.0" textLength="15.04" lengthAdjust="spacingAndGlyphs">40</text>
<text x="517.98" y="524" font-size="16.0" textLength="7.52" lengthAdjust="spacingAndGlyphs">0</text>
<text x="517.98" y="505" font-size="16.0" textLength="7.52" lengthAdjust="spacingAndGlyphs">1</text>
<text x="517.98" y="486" font-size="16.0" textLength="7.52" lengthAdjust="spacingAndGlyphs">2</text>
<rect x="572.8" y="366.8" width="74.1" height="50.6" fill="#fff"/>
<clipPath id="cp6"><rect x="572.8" y="366.8" width="74.1" height="50.05"/></clipPath>
<path d="M602.4 366.8V416.85M630.5 366.8V416.85M572.8 415.6H646.9M572.8 400.7H646.9" stroke="#000" stroke-opacity="0.1" stroke-width="0.6" fill="none"/>
<path d="M572.6 366.8V416.85H646.9" stroke="#000" stroke-width="1.15" fill="none" stroke-linejoin="miter"/>
<path d="M602.4 416.85v-5.6M630.5 416.85v-5.6M572.8 415.6h5.6M572.8 400.7h5.6" stroke="#000" stroke-width="1.15" fill="none"/>
<path d="M574.3 415.6 L645 368.9" fill="none" stroke="#009AFA" stroke-width="1.4" stroke-linejoin="round" clip-path="url(#cp6)"/>
<text x="599.28" y="435" font-size="15.4" textLength="7.24" lengthAdjust="spacingAndGlyphs">2</text>
<text x="627.38" y="435" font-size="15.4" textLength="7.24" lengthAdjust="spacingAndGlyphs">4</text>
<text x="544.4" y="406" font-size="15.4" textLength="18.1" lengthAdjust="spacingAndGlyphs">0.1</text>
<text x="544.4" y="421" font-size="15.4" textLength="18.1" lengthAdjust="spacingAndGlyphs">0.0</text>
<clipPath id="cd"><rect x="352.4" y="10.7" width="301.8" height="300.6"/></clipPath>
<g clip-path="url(#cd)">
<rect x="352.4" y="10.7" width="301.8" height="300.6" fill="#ADD8E6"/>
<circle cx="402.75" cy="537.75" r="502.2" fill="#FFEBCD"/>
<circle cx="402.75" cy="537.75" r="251.1" fill="#ADD8E6"/>
<circle cx="402.75" cy="537.75" r="251.1" fill="none" stroke="#008000" stroke-width="2.3"/>
<circle cx="402.75" cy="537.75" r="313.88" fill="none" stroke="#008000" stroke-width="2.3"/>
<circle cx="402.75" cy="537.75" r="376.65" fill="none" stroke="#008000" stroke-width="2.3"/>
<circle cx="402.75" cy="537.75" r="439.62" fill="none" stroke="#008000" stroke-width="1.9"/>
<circle cx="402.75" cy="537.75" r="265.71" fill="none" stroke="#E26F46" stroke-width="2.3"/>
<circle cx="402.75" cy="537.75" r="322.75" fill="none" stroke="#E26F46" stroke-width="2.3"/>
<circle cx="402.75" cy="537.75" r="379.89" fill="none" stroke="#E26F46" stroke-width="2.3"/>
<circle cx="402.75" cy="537.75" r="439.06" fill="none" stroke="#E26F46" stroke-width="2.3"/>
<circle cx="402.75" cy="537.75" r="502.2" fill="none" stroke="#E26F46" stroke-width="2.3"/>
<path d="M403.95 261.34 L403.95 233.44 L408.45 233.44 L403.1 222.14 L397.75 233.44 L402.25 233.44 L402.25 261.34Z" fill="#000"/>
<path d="M457.47 266.81 L462.91 239.45 L467.33 240.33 L464.28 228.2 L456.83 238.24 L461.25 239.12 L455.8 266.48Z" fill="#000"/>
<path d="M509.24 282.69 L519.91 256.91 L524.07 258.64 L523.45 246.15 L514.19 254.54 L518.34 256.26 L507.67 282.04Z" fill="#000"/>
<path d="M556.91 308.36 L572.41 285.16 L576.15 287.66 L577.98 275.3 L567.26 281.72 L571 284.22 L555.5 307.42Z" fill="#000"/>
<path d="M403.95 211.12 L403.95 207.52 L408.45 207.52 L403.1 196.22 L397.75 207.52 L402.25 207.52 L402.25 211.12Z" fill="#000"/>
<path d="M467.27 217.56 L467.97 214.03 L472.38 214.91 L469.34 202.78 L461.89 212.82 L466.3 213.7 L465.6 217.23Z" fill="#000"/>
<path d="M528.45 236.29 L529.83 232.97 L533.99 234.69 L533.37 222.2 L524.1 230.59 L528.26 232.32 L526.88 235.64Z" fill="#000"/>
<path d="M584.81 266.61 L586.81 263.61 L590.55 266.11 L592.38 253.74 L581.66 260.17 L585.4 262.67 L583.4 265.66Z" fill="#000"/>
<path d="M634.17 307.33 L636.72 304.78 L639.9 307.97 L644.11 296.19 L632.33 300.4 L635.52 303.58 L632.97 306.13Z" fill="#000"/>
<path d="M397.75 154.6 L403.1 165.9 L408.45 154.6Z" fill="#000"/>
<path d="M472.21 160.91 L475.26 173.04 L482.71 163Z" fill="#000"/>
<path d="M544.36 181.7 L544.97 194.19 L554.24 185.8Z" fill="#000"/>
<path d="M611.06 216.17 L609.23 228.53 L619.95 222.11Z" fill="#000"/>
<path d="M402.25 110.68 L402.25 118.78 L397.75 118.78 L403.1 130.08 L408.45 118.78 L403.95 118.78 L403.95 110.68Z" fill="#000"/>
<path d="M485.19 118.72 L483.61 126.66 L479.2 125.78 L482.24 137.91 L489.7 127.87 L485.28 126.99 L486.86 119.05Z" fill="#000"/>
<path d="M565.32 142.85 L562.22 150.33 L558.06 148.61 L558.68 161.1 L567.95 152.7 L563.79 150.98 L566.89 143.5Z" fill="#000"/>
<path d="M639.2 182.15 L634.7 188.88 L630.96 186.38 L629.13 198.75 L639.85 192.33 L636.11 189.83 L640.61 183.09Z" fill="#000"/>
<path d="M402.25 60.46 L402.25 78.96 L397.75 78.96 L403.1 90.26 L408.45 78.96 L403.95 78.96 L403.95 60.46Z" fill="#000"/>
<path d="M494.99 69.46 L491.38 87.61 L486.97 86.73 L490.01 98.85 L497.46 88.82 L493.05 87.94 L496.66 69.79Z" fill="#000"/>
<path d="M584.54 96.45 L577.46 113.54 L573.3 111.82 L573.92 124.31 L583.19 115.92 L579.03 114.19 L586.11 97.1Z" fill="#000"/>
<path d="M667.1 140.39 L656.82 155.77 L653.08 153.27 L651.25 165.64 L661.98 159.22 L658.24 156.72 L668.51 141.34Z" fill="#000"/>
</g>
<path d="M352.4 10.7V311.3H654.7" stroke="#333" stroke-width="0.8" fill="none"/>
<path d="M654.5 311.3v-6" stroke="#666" stroke-width="0.8" fill="none"/>
<text x="373.3" y="29.2" font-family='"DejaVu Sans", "Liberation Sans", sans-serif' font-size="15.5">SAS</text>
<text x="361.3" y="309" font-family='"DejaVu Sans", "Liberation Sans", sans-serif' font-size="15.5">ventricle</text>
<rect x="474.8" y="20.7" width="167.4" height="45.3" fill="#fff"/>
<path d="M477.9 35.9H504.3" stroke="#008000" stroke-width="2.3"/>
<path d="M477.9 50.7H504.3" stroke="#E26F46" stroke-width="2.3"/>
<text x="506.8" y="40.8" font-size="14.5" textLength="50.4" lengthAdjust="spacingAndGlyphs">baseline</text>
<text x="506.8" y="56.2" font-size="14.5" textLength="130.8" lengthAdjust="spacingAndGlyphs">osmotic deformation</text>
<text x="316.99" y="292" font-size="14.5" textLength="26.31" lengthAdjust="spacingAndGlyphs">1.00</text>
<text x="316.99" y="229" font-size="14.5" textLength="26.31" lengthAdjust="spacingAndGlyphs">1.25</text>
<text x="316.99" y="166" font-size="14.5" textLength="26.31" lengthAdjust="spacingAndGlyphs">1.50</text>
<text x="316.99" y="103" font-size="14.5" textLength="26.31" lengthAdjust="spacingAndGlyphs">1.75</text>
<text x="316.99" y="41" font-size="14.5" textLength="26.31" lengthAdjust="spacingAndGlyphs">2.00</text>
<text x="336.85" y="330" font-size="14.5" textLength="12.76" lengthAdjust="spacingAndGlyphs">−</text>
<text x="349.21" y="329.6" font-size="14.5" textLength="18.8" lengthAdjust="spacingAndGlyphs">0.2</text>
<text x="393.25" y="329.6" font-size="14.5" textLength="18.8" lengthAdjust="spacingAndGlyphs">0.0</text>
<text x="443.47" y="329.6" font-size="14.5" textLength="18.8" lengthAdjust="spacingAndGlyphs">0.2</text>
<text x="493.69" y="329.6" font-size="14.5" textLength="18.8" lengthAdjust="spacingAndGlyphs">0.4</text>
<text x="543.91" y="329.6" font-size="14.5" textLength="18.8" lengthAdjust="spacingAndGlyphs">0.6</text>
<text x="594.13" y="329.6" font-size="14.5" textLength="18.8" lengthAdjust="spacingAndGlyphs">0.8</text>
<text x="644.35" y="329.6" font-size="14.5" textLength="18.8" lengthAdjust="spacingAndGlyphs">1.0</text>
<text transform="translate(19.2 128) rotate(-90)" font-size="16" textLength="27" lengthAdjust="spacingAndGlyphs"><tspan font-style="italic">p</tspan>(<tspan font-style="italic">r</tspan>)</text>
<text transform="translate(19.2 93.1) rotate(-90)" font-size="16" textLength="55.9" lengthAdjust="spacingAndGlyphs"><tspan font-size="19.2" dy="1.2">[</tspan><tspan dy="-1.2">mmHg</tspan><tspan font-size="19.2" dy="1.2">]</tspan></text>
<text transform="translate(19.2 309.9) rotate(-90)" font-size="16" textLength="26" lengthAdjust="spacingAndGlyphs"><tspan font-style="italic">v</tspan>(<tspan font-style="italic">r</tspan>)</text>
<text transform="translate(19.2 275.9) rotate(-90)" font-size="16" textLength="52.9" lengthAdjust="spacingAndGlyphs"><tspan font-size="19.2" dy="1.2">[</tspan><tspan dy="-1.2">mm/h</tspan><tspan font-size="19.2" dy="1.2">]</tspan></text>
<text transform="translate(19.2 488) rotate(-90)" font-size="16" textLength="34" lengthAdjust="spacingAndGlyphs"><tspan font-style="italic">u</tspan><tspan font-style="italic" font-size="11.5" dy="2.5">r</tspan><tspan dy="-2.5">(</tspan><tspan font-style="italic">r</tspan>)</text>
<text transform="translate(19.2 447.1) rotate(-90)" font-size="16" textLength="35" lengthAdjust="spacingAndGlyphs"><tspan font-size="19.2" dy="1.2">[</tspan><tspan dy="-1.2">mm</tspan><tspan font-size="19.2" dy="1.2">]</tspan></text>
<text transform="translate(303.5 208) rotate(-90)" font-size="18" textLength="48.7" lengthAdjust="spacingAndGlyphs">radius</text>
<text transform="translate(303.5 151) rotate(-90)" font-size="18" textLength="37.2" lengthAdjust="spacingAndGlyphs"><tspan font-size="21.6" dy="1.2">[</tspan><tspan dy="-1.2">mm</tspan><tspan font-size="21.6" dy="1.2">]</tspan></text>
<text transform="translate(292.3 507.6) rotate(-90)" font-size="16" textLength="85.1" lengthAdjust="spacingAndGlyphs">compression</text>
<text transform="translate(292.3 415.6) rotate(-90)" font-size="16" textLength="21.1" lengthAdjust="spacingAndGlyphs"><tspan font-size="19.2" dy="1.2">[</tspan><tspan dy="-1.2">%</tspan><tspan font-size="19.2" dy="1.2">]</tspan></text>
<text transform="translate(504.8 506.8) rotate(-90)" font-size="16" textLength="40.9" lengthAdjust="spacingAndGlyphs">|<tspan font-style="italic">v</tspan>(<tspan font-style="italic">b</tspan>)|</text>
<text transform="translate(504.8 456.3) rotate(-90)" font-size="16" textLength="51.8" lengthAdjust="spacingAndGlyphs"><tspan font-size="19.2" dy="1.2">[</tspan><tspan dy="-1.2">mm/h</tspan><tspan font-size="19.2" dy="1.2">]</tspan></text>
<text x="125.1" y="559.7" font-size="16" textLength="7.4" lengthAdjust="spacingAndGlyphs"><tspan font-style="italic">r</tspan></text>
<text x="138.9" y="559.7" font-size="16" textLength="35.3" lengthAdjust="spacingAndGlyphs"><tspan font-size="19.2" dy="1.2">[</tspan><tspan dy="-1.2">mm</tspan><tspan font-size="19.2" dy="1.2">]</tspan></text>
<text x="456.2" y="351.2" font-size="17" textLength="48.8" lengthAdjust="spacingAndGlyphs">radius</text>
<text x="512.4" y="351.2" font-size="17" textLength="37.4" lengthAdjust="spacingAndGlyphs"><tspan font-size="20.4" dy="1.2">[</tspan><tspan dy="-1.2">mm</tspan><tspan font-size="20.4" dy="1.2">]</tspan></text>
<text x="356.5" y="559.7" font-size="16" textLength="20.6" lengthAdjust="spacingAndGlyphs">Δ<tspan font-style="italic">c</tspan></text>
<text x="382" y="559.7" font-size="16" textLength="56.3" lengthAdjust="spacingAndGlyphs"><tspan font-size="19.2" dy="1.2">[</tspan><tspan dy="-1.2">mOsm</tspan><tspan font-size="19.2" dy="1.2">]</tspan></text>
<text x="569.3" y="559.7" font-size="16" textLength="20.3" lengthAdjust="spacingAndGlyphs">Δ<tspan font-style="italic">c</tspan></text>
<text x="595.2" y="559.7" font-size="16" textLength="56.2" lengthAdjust="spacingAndGlyphs"><tspan font-size="19.2" dy="1.2">[</tspan><tspan dy="-1.2">mOsm</tspan><tspan font-size="19.2" dy="1.2">]</tspan></text>
<text x="0.3" y="13" font-size="25.5" textLength="13.1" lengthAdjust="spacingAndGlyphs">a</text>
<text x="0.9" y="196.1" font-size="26.8" textLength="13.3" lengthAdjust="spacingAndGlyphs">b</text>
<text x="1.5" y="379.5" font-size="26.3" textLength="11.7" lengthAdjust="spacingAndGlyphs">c</text>
<text x="285.5" y="20" font-size="25.5" textLength="13.8" lengthAdjust="spacingAndGlyphs">d</text>
<text x="280" y="383.7" font-size="25.5" textLength="11.3" lengthAdjust="spacingAndGlyphs">e</text>
<text x="500.4" y="383.8" font-size="25.5" textLength="9.2" lengthAdjust="spacingAndGlyphs">f</text>
</svg>
</body>
</html>
